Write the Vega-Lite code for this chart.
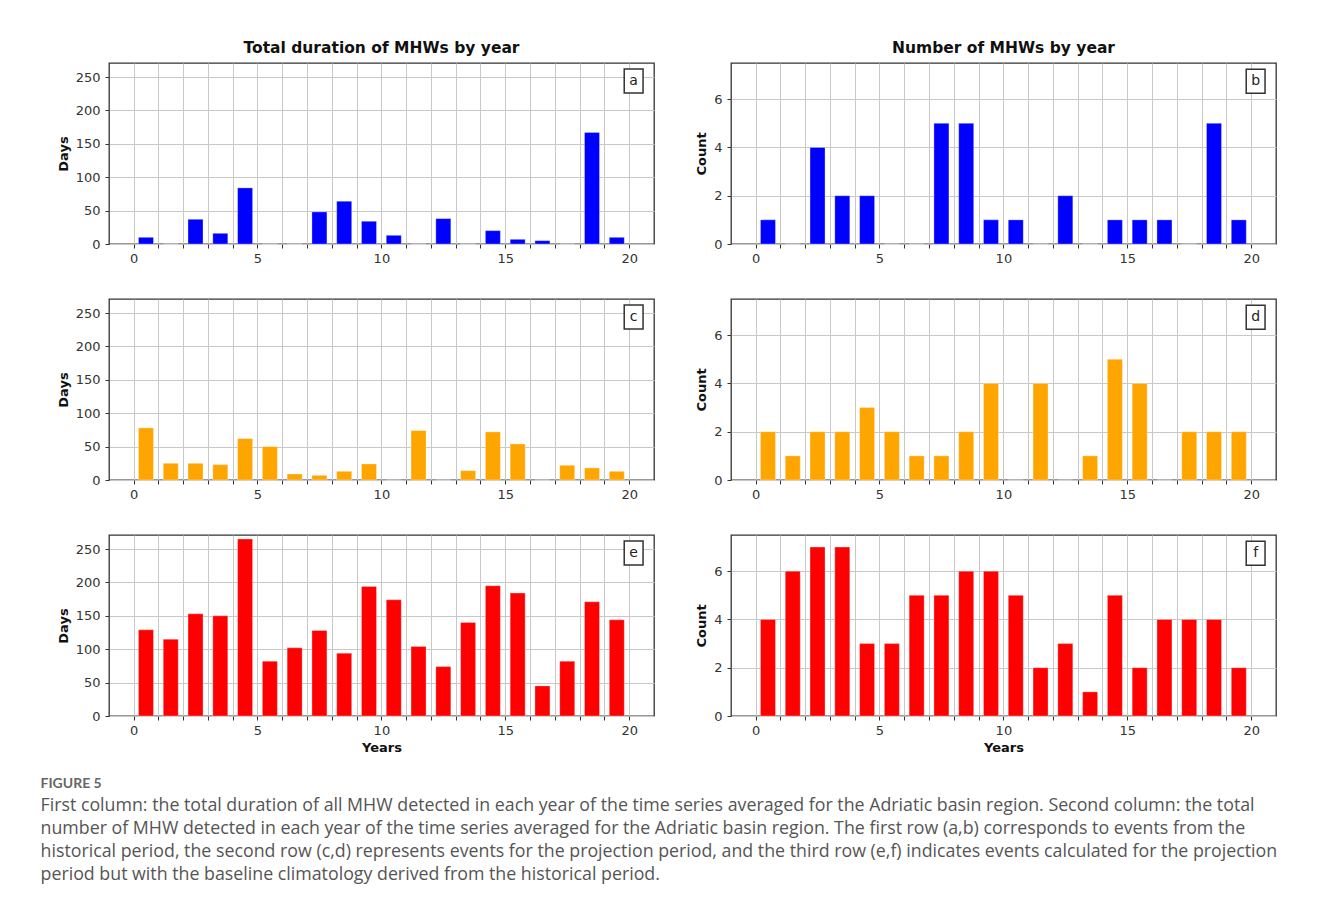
{
  "$schema": "https://vega.github.io/schema/vega-lite/v6.json",
  "background": "white",
  "padding": {"left": 40, "top": 39, "right": 5, "bottom": 5},
  "datasets": {
    "mhw": [
      {"t": 0.5, "period": "historical", "days": 10, "count": 1},
      {"t": 1.5, "period": "historical", "days": 0, "count": 0},
      {"t": 2.5, "period": "historical", "days": 37, "count": 4},
      {"t": 3.5, "period": "historical", "days": 16, "count": 2},
      {"t": 4.5, "period": "historical", "days": 84, "count": 2},
      {"t": 5.5, "period": "historical", "days": 0, "count": 0},
      {"t": 6.5, "period": "historical", "days": 0, "count": 0},
      {"t": 7.5, "period": "historical", "days": 48, "count": 5},
      {"t": 8.5, "period": "historical", "days": 64, "count": 5},
      {"t": 9.5, "period": "historical", "days": 34, "count": 1},
      {"t": 10.5, "period": "historical", "days": 13, "count": 1},
      {"t": 11.5, "period": "historical", "days": 0, "count": 0},
      {"t": 12.5, "period": "historical", "days": 38, "count": 2},
      {"t": 13.5, "period": "historical", "days": 0, "count": 0},
      {"t": 14.5, "period": "historical", "days": 20, "count": 1},
      {"t": 15.5, "period": "historical", "days": 7, "count": 1},
      {"t": 16.5, "period": "historical", "days": 5, "count": 1},
      {"t": 17.5, "period": "historical", "days": 0, "count": 0},
      {"t": 18.5, "period": "historical", "days": 167, "count": 5},
      {"t": 19.5, "period": "historical", "days": 10, "count": 1},
      {"t": 0.5, "period": "projection", "days": 78, "count": 2},
      {"t": 1.5, "period": "projection", "days": 25, "count": 1},
      {"t": 2.5, "period": "projection", "days": 25, "count": 2},
      {"t": 3.5, "period": "projection", "days": 23, "count": 2},
      {"t": 4.5, "period": "projection", "days": 62, "count": 3},
      {"t": 5.5, "period": "projection", "days": 50, "count": 2},
      {"t": 6.5, "period": "projection", "days": 9, "count": 1},
      {"t": 7.5, "period": "projection", "days": 7, "count": 1},
      {"t": 8.5, "period": "projection", "days": 13, "count": 2},
      {"t": 9.5, "period": "projection", "days": 24, "count": 4},
      {"t": 10.5, "period": "projection", "days": 0, "count": 0},
      {"t": 11.5, "period": "projection", "days": 74, "count": 4},
      {"t": 12.5, "period": "projection", "days": 0, "count": 0},
      {"t": 13.5, "period": "projection", "days": 14, "count": 1},
      {"t": 14.5, "period": "projection", "days": 72, "count": 5},
      {"t": 15.5, "period": "projection", "days": 54, "count": 4},
      {"t": 16.5, "period": "projection", "days": 0, "count": 0},
      {"t": 17.5, "period": "projection", "days": 22, "count": 2},
      {"t": 18.5, "period": "projection", "days": 18, "count": 2},
      {"t": 19.5, "period": "projection", "days": 13, "count": 2},
      {"t": 0.5, "period": "baseline", "days": 129, "count": 4},
      {"t": 1.5, "period": "baseline", "days": 115, "count": 6},
      {"t": 2.5, "period": "baseline", "days": 153, "count": 7},
      {"t": 3.5, "period": "baseline", "days": 150, "count": 7},
      {"t": 4.5, "period": "baseline", "days": 265, "count": 3},
      {"t": 5.5, "period": "baseline", "days": 82, "count": 3},
      {"t": 6.5, "period": "baseline", "days": 102, "count": 5},
      {"t": 7.5, "period": "baseline", "days": 128, "count": 5},
      {"t": 8.5, "period": "baseline", "days": 94, "count": 6},
      {"t": 9.5, "period": "baseline", "days": 194, "count": 6},
      {"t": 10.5, "period": "baseline", "days": 174, "count": 5},
      {"t": 11.5, "period": "baseline", "days": 104, "count": 2},
      {"t": 12.5, "period": "baseline", "days": 74, "count": 3},
      {"t": 13.5, "period": "baseline", "days": 140, "count": 1},
      {"t": 14.5, "period": "baseline", "days": 195, "count": 5},
      {"t": 15.5, "period": "baseline", "days": 184, "count": 2},
      {"t": 16.5, "period": "baseline", "days": 45, "count": 4},
      {"t": 17.5, "period": "baseline", "days": 82, "count": 4},
      {"t": 18.5, "period": "baseline", "days": 171, "count": 4},
      {"t": 19.5, "period": "baseline", "days": 144, "count": 2}
    ]
  },
  "title": {
    "text": "FIGURE 5",
    "subtitle": [
      "First column: the total duration of all MHW detected in each year of the time series averaged for the Adriatic basin region. Second column: the total",
      "number of MHW detected in each year of the time series averaged for the Adriatic basin region. The first row (a,b) corresponds to events from the",
      "historical period, the second row (c,d) represents events for the projection period, and the third row (e,f) indicates events calculated for the projection",
      "period but with the baseline climatology derived from the historical period."
    ],
    "orient": "bottom",
    "anchor": "start",
    "frame": "bounds",
    "dx": -16,
    "offset": 22,
    "font": "Lato",
    "fontSize": 14,
    "fontWeight": "bold",
    "color": "#666666",
    "subtitleFont": "Open Sans",
    "subtitleFontSize": 17.8,
    "subtitleColor": "#555555",
    "subtitleLineHeight": 23,
    "subtitlePadding": 6
  },
  "columns": 2,
  "spacing": {"row": 32, "column": 40},
  "concat": [
    {
      "width": 545, "height": 181,
      "title": {"text": "Total duration of MHWs by year", "frame": "group", "anchor": "middle", "offset": 7},
      "data": {"name": "mhw"},
      "transform": [{"filter": "datum.period === 'historical'"}],
      "layer": [
        {"mark": {"type": "bar", "width": 15, "color": "#0000ff", "stroke": "#ffffff", "strokeWidth": 0.6, "strokeOpacity": 0.5},
         "encoding": {
           "x": {"field": "t", "type": "quantitative", "scale": {"domain": [-0.79, 20.8], "nice": false, "zero": false}, "axis": {"title": null, "values": [0,1,2,3,4,5,6,7,8,9,10,11,12,13,14,15,16,17,18,19,20], "labelExpr": "datum.value % 5 === 0 ? datum.label : ''", "labelOverlap": false, "labelFlush": false}},
           "y": {"field": "days", "type": "quantitative", "scale": {"domain": [0, 271], "nice": false}, "axis": {"title": "Days", "values": [0,50,100,150,200,250], "labelOverlap": false}}
         }},
        {"data": {"values": [{"label": "a"}]},
         "mark": {"type": "rect", "fill": "white", "stroke": "#333333", "strokeWidth": 1.5},
         "encoding": {
           "x": {"datum": 19.8, "type": "quantitative", "axis": {"title": null, "values": [0,1,2,3,4,5,6,7,8,9,10,11,12,13,14,15,16,17,18,19,20], "labelExpr": "datum.value % 5 === 0 ? datum.label : ''", "labelOverlap": false, "labelFlush": false}},
           "x2": {"datum": 20.56},
           "y": {"datum": 226, "type": "quantitative", "axis": {"title": "Days", "values": [0,50,100,150,200,250], "labelOverlap": false}},
           "y2": {"datum": 262}}},
        {"data": {"values": [{"label": "a"}]},
         "mark": {"type": "text", "font": "DejaVu Sans", "fontSize": 14, "color": "#222222", "baseline": "middle", "align": "center"},
         "encoding": {
           "x": {"datum": 20.18, "type": "quantitative", "axis": {"title": null, "values": [0,1,2,3,4,5,6,7,8,9,10,11,12,13,14,15,16,17,18,19,20], "labelExpr": "datum.value % 5 === 0 ? datum.label : ''", "labelOverlap": false, "labelFlush": false}},
           "y": {"datum": 244, "type": "quantitative", "axis": {"title": "Days", "values": [0,50,100,150,200,250], "labelOverlap": false}},
           "text": {"field": "label"}}}
      ]
    },
    {
      "width": 545, "height": 181,
      "title": {"text": "Number of MHWs by year", "frame": "group", "anchor": "middle", "offset": 7},
      "data": {"name": "mhw"},
      "transform": [{"filter": "datum.period === 'historical'"}],
      "layer": [
        {"mark": {"type": "bar", "width": 15, "color": "#0000ff", "stroke": "#ffffff", "strokeWidth": 0.6, "strokeOpacity": 0.5},
         "encoding": {
           "x": {"field": "t", "type": "quantitative", "scale": {"domain": [-0.79, 20.8], "nice": false, "zero": false}, "axis": {"title": null, "values": [0,1,2,3,4,5,6,7,8,9,10,11,12,13,14,15,16,17,18,19,20], "labelExpr": "datum.value % 5 === 0 ? datum.label : ''", "labelOverlap": false, "labelFlush": false}},
           "y": {"field": "count", "type": "quantitative", "scale": {"domain": [0, 7.5], "nice": false}, "axis": {"title": "Count", "values": [0,2,4,6], "labelOverlap": false}}
         }},
        {"data": {"values": [{"label": "b"}]},
         "mark": {"type": "rect", "fill": "white", "stroke": "#333333", "strokeWidth": 1.5},
         "encoding": {
           "x": {"datum": 19.8, "type": "quantitative", "axis": {"title": null, "values": [0,1,2,3,4,5,6,7,8,9,10,11,12,13,14,15,16,17,18,19,20], "labelExpr": "datum.value % 5 === 0 ? datum.label : ''", "labelOverlap": false, "labelFlush": false}},
           "x2": {"datum": 20.56},
           "y": {"datum": 6.25, "type": "quantitative", "axis": {"title": "Count", "values": [0,2,4,6], "labelOverlap": false}},
           "y2": {"datum": 7.24}}},
        {"data": {"values": [{"label": "b"}]},
         "mark": {"type": "text", "font": "DejaVu Sans", "fontSize": 14, "color": "#222222", "baseline": "middle", "align": "center"},
         "encoding": {
           "x": {"datum": 20.18, "type": "quantitative", "axis": {"title": null, "values": [0,1,2,3,4,5,6,7,8,9,10,11,12,13,14,15,16,17,18,19,20], "labelExpr": "datum.value % 5 === 0 ? datum.label : ''", "labelOverlap": false, "labelFlush": false}},
           "y": {"datum": 6.75, "type": "quantitative", "axis": {"title": "Count", "values": [0,2,4,6], "labelOverlap": false}},
           "text": {"field": "label"}}}
      ]
    },
    {
      "width": 545, "height": 181,
      "data": {"name": "mhw"},
      "transform": [{"filter": "datum.period === 'projection'"}],
      "layer": [
        {"mark": {"type": "bar", "width": 15, "color": "#ffa500", "stroke": "#ffffff", "strokeWidth": 0.6, "strokeOpacity": 0.5},
         "encoding": {
           "x": {"field": "t", "type": "quantitative", "scale": {"domain": [-0.79, 20.8], "nice": false, "zero": false}, "axis": {"title": null, "values": [0,1,2,3,4,5,6,7,8,9,10,11,12,13,14,15,16,17,18,19,20], "labelExpr": "datum.value % 5 === 0 ? datum.label : ''", "labelOverlap": false, "labelFlush": false}},
           "y": {"field": "days", "type": "quantitative", "scale": {"domain": [0, 271], "nice": false}, "axis": {"title": "Days", "values": [0,50,100,150,200,250], "labelOverlap": false}}
         }},
        {"data": {"values": [{"label": "c"}]},
         "mark": {"type": "rect", "fill": "white", "stroke": "#333333", "strokeWidth": 1.5},
         "encoding": {
           "x": {"datum": 19.8, "type": "quantitative", "axis": {"title": null, "values": [0,1,2,3,4,5,6,7,8,9,10,11,12,13,14,15,16,17,18,19,20], "labelExpr": "datum.value % 5 === 0 ? datum.label : ''", "labelOverlap": false, "labelFlush": false}},
           "x2": {"datum": 20.56},
           "y": {"datum": 226, "type": "quantitative", "axis": {"title": "Days", "values": [0,50,100,150,200,250], "labelOverlap": false}},
           "y2": {"datum": 262}}},
        {"data": {"values": [{"label": "c"}]},
         "mark": {"type": "text", "font": "DejaVu Sans", "fontSize": 14, "color": "#222222", "baseline": "middle", "align": "center"},
         "encoding": {
           "x": {"datum": 20.18, "type": "quantitative", "axis": {"title": null, "values": [0,1,2,3,4,5,6,7,8,9,10,11,12,13,14,15,16,17,18,19,20], "labelExpr": "datum.value % 5 === 0 ? datum.label : ''", "labelOverlap": false, "labelFlush": false}},
           "y": {"datum": 244, "type": "quantitative", "axis": {"title": "Days", "values": [0,50,100,150,200,250], "labelOverlap": false}},
           "text": {"field": "label"}}}
      ]
    },
    {
      "width": 545, "height": 181,
      "data": {"name": "mhw"},
      "transform": [{"filter": "datum.period === 'projection'"}],
      "layer": [
        {"mark": {"type": "bar", "width": 15, "color": "#ffa500", "stroke": "#ffffff", "strokeWidth": 0.6, "strokeOpacity": 0.5},
         "encoding": {
           "x": {"field": "t", "type": "quantitative", "scale": {"domain": [-0.79, 20.8], "nice": false, "zero": false}, "axis": {"title": null, "values": [0,1,2,3,4,5,6,7,8,9,10,11,12,13,14,15,16,17,18,19,20], "labelExpr": "datum.value % 5 === 0 ? datum.label : ''", "labelOverlap": false, "labelFlush": false}},
           "y": {"field": "count", "type": "quantitative", "scale": {"domain": [0, 7.5], "nice": false}, "axis": {"title": "Count", "values": [0,2,4,6], "labelOverlap": false}}
         }},
        {"data": {"values": [{"label": "d"}]},
         "mark": {"type": "rect", "fill": "white", "stroke": "#333333", "strokeWidth": 1.5},
         "encoding": {
           "x": {"datum": 19.8, "type": "quantitative", "axis": {"title": null, "values": [0,1,2,3,4,5,6,7,8,9,10,11,12,13,14,15,16,17,18,19,20], "labelExpr": "datum.value % 5 === 0 ? datum.label : ''", "labelOverlap": false, "labelFlush": false}},
           "x2": {"datum": 20.56},
           "y": {"datum": 6.25, "type": "quantitative", "axis": {"title": "Count", "values": [0,2,4,6], "labelOverlap": false}},
           "y2": {"datum": 7.24}}},
        {"data": {"values": [{"label": "d"}]},
         "mark": {"type": "text", "font": "DejaVu Sans", "fontSize": 14, "color": "#222222", "baseline": "middle", "align": "center"},
         "encoding": {
           "x": {"datum": 20.18, "type": "quantitative", "axis": {"title": null, "values": [0,1,2,3,4,5,6,7,8,9,10,11,12,13,14,15,16,17,18,19,20], "labelExpr": "datum.value % 5 === 0 ? datum.label : ''", "labelOverlap": false, "labelFlush": false}},
           "y": {"datum": 6.75, "type": "quantitative", "axis": {"title": "Count", "values": [0,2,4,6], "labelOverlap": false}},
           "text": {"field": "label"}}}
      ]
    },
    {
      "width": 545, "height": 181,
      "data": {"name": "mhw"},
      "transform": [{"filter": "datum.period === 'baseline'"}],
      "layer": [
        {"mark": {"type": "bar", "width": 15, "color": "#ff0000", "stroke": "#ffffff", "strokeWidth": 0.6, "strokeOpacity": 0.5},
         "encoding": {
           "x": {"field": "t", "type": "quantitative", "scale": {"domain": [-0.79, 20.8], "nice": false, "zero": false}, "axis": {"title": "Years", "values": [0,1,2,3,4,5,6,7,8,9,10,11,12,13,14,15,16,17,18,19,20], "labelExpr": "datum.value % 5 === 0 ? datum.label : ''", "labelOverlap": false, "labelFlush": false}},
           "y": {"field": "days", "type": "quantitative", "scale": {"domain": [0, 271], "nice": false}, "axis": {"title": "Days", "values": [0,50,100,150,200,250], "labelOverlap": false}}
         }},
        {"data": {"values": [{"label": "e"}]},
         "mark": {"type": "rect", "fill": "white", "stroke": "#333333", "strokeWidth": 1.5},
         "encoding": {
           "x": {"datum": 19.8, "type": "quantitative", "axis": {"title": "Years", "values": [0,1,2,3,4,5,6,7,8,9,10,11,12,13,14,15,16,17,18,19,20], "labelExpr": "datum.value % 5 === 0 ? datum.label : ''", "labelOverlap": false, "labelFlush": false}},
           "x2": {"datum": 20.56},
           "y": {"datum": 226, "type": "quantitative", "axis": {"title": "Days", "values": [0,50,100,150,200,250], "labelOverlap": false}},
           "y2": {"datum": 262}}},
        {"data": {"values": [{"label": "e"}]},
         "mark": {"type": "text", "font": "DejaVu Sans", "fontSize": 14, "color": "#222222", "baseline": "middle", "align": "center"},
         "encoding": {
           "x": {"datum": 20.18, "type": "quantitative", "axis": {"title": "Years", "values": [0,1,2,3,4,5,6,7,8,9,10,11,12,13,14,15,16,17,18,19,20], "labelExpr": "datum.value % 5 === 0 ? datum.label : ''", "labelOverlap": false, "labelFlush": false}},
           "y": {"datum": 244, "type": "quantitative", "axis": {"title": "Days", "values": [0,50,100,150,200,250], "labelOverlap": false}},
           "text": {"field": "label"}}}
      ]
    },
    {
      "width": 545, "height": 181,
      "data": {"name": "mhw"},
      "transform": [{"filter": "datum.period === 'baseline'"}],
      "layer": [
        {"mark": {"type": "bar", "width": 15, "color": "#ff0000", "stroke": "#ffffff", "strokeWidth": 0.6, "strokeOpacity": 0.5},
         "encoding": {
           "x": {"field": "t", "type": "quantitative", "scale": {"domain": [-0.79, 20.8], "nice": false, "zero": false}, "axis": {"title": "Years", "values": [0,1,2,3,4,5,6,7,8,9,10,11,12,13,14,15,16,17,18,19,20], "labelExpr": "datum.value % 5 === 0 ? datum.label : ''", "labelOverlap": false, "labelFlush": false}},
           "y": {"field": "count", "type": "quantitative", "scale": {"domain": [0, 7.5], "nice": false}, "axis": {"title": "Count", "values": [0,2,4,6], "labelOverlap": false}}
         }},
        {"data": {"values": [{"label": "f"}]},
         "mark": {"type": "rect", "fill": "white", "stroke": "#333333", "strokeWidth": 1.5},
         "encoding": {
           "x": {"datum": 19.8, "type": "quantitative", "axis": {"title": "Years", "values": [0,1,2,3,4,5,6,7,8,9,10,11,12,13,14,15,16,17,18,19,20], "labelExpr": "datum.value % 5 === 0 ? datum.label : ''", "labelOverlap": false, "labelFlush": false}},
           "x2": {"datum": 20.56},
           "y": {"datum": 6.25, "type": "quantitative", "axis": {"title": "Count", "values": [0,2,4,6], "labelOverlap": false}},
           "y2": {"datum": 7.24}}},
        {"data": {"values": [{"label": "f"}]},
         "mark": {"type": "text", "font": "DejaVu Sans", "fontSize": 14, "color": "#222222", "baseline": "middle", "align": "center"},
         "encoding": {
           "x": {"datum": 20.18, "type": "quantitative", "axis": {"title": "Years", "values": [0,1,2,3,4,5,6,7,8,9,10,11,12,13,14,15,16,17,18,19,20], "labelExpr": "datum.value % 5 === 0 ? datum.label : ''", "labelOverlap": false, "labelFlush": false}},
           "y": {"datum": 6.75, "type": "quantitative", "axis": {"title": "Count", "values": [0,2,4,6], "labelOverlap": false}},
           "text": {"field": "label"}}}
      ]
    }
  ],
  "config": {
    "view": {"stroke": "#333333", "strokeWidth": 1.3},
    "axis": {
      "labelFont": "DejaVu Sans", "labelFontSize": 13, "labelColor": "#333333",
      "titleFont": "DejaVu Sans", "titleFontSize": 13, "titleFontWeight": "bold", "titleColor": "#111111",
      "gridColor": "#c8c8c8", "gridWidth": 1, "gridOpacity": 1,
      "tickColor": "#333333", "tickSize": 4, "tickWidth": 1,
      "domain": false, "labelOverlap": false
    },
    "axisX": {"labelPadding": 4, "titlePadding": 4},
    "axisY": {"labelPadding": 5, "titlePadding": 5},
    "title": {"font": "DejaVu Sans", "fontSize": 15.5, "fontWeight": "bold", "color": "#111111"}
  }
}
